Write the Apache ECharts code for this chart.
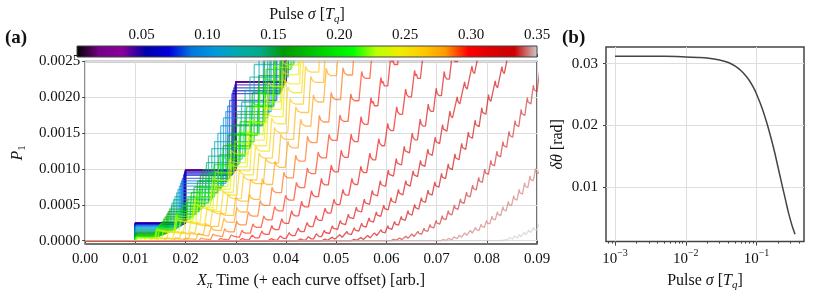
<!DOCTYPE html>
<html>
<head>
<meta charset="utf-8">
<script src="https://cdn.jsdelivr.net/npm/echarts@6/dist/echarts.min.js"></script>
<style>
html,body{margin:0;padding:0;background:#fff;}
#chart{width:814px;height:296px;}
</style>
</head>
<body>
<div id="chart"></div>
<script>
// ---------------- data ----------------
// panel (a): one curve per pulse width sigma
const curveSigma = [0.001,0.008,0.015,0.022,0.029,0.037,0.044,0.051,0.058,0.065,
  0.072,0.079,0.086,0.094,0.101,0.108,0.115,0.122,0.129,0.136,
  0.143,0.151,0.158,0.165,0.172,0.179,0.186,0.193,0.200,0.208,
  0.215,0.222,0.229,0.236,0.243,0.250,0.257,0.265,0.272,0.279,
  0.286,0.293,0.300,0.307,0.314,0.322,0.329,0.336,0.343,0.350];
// rotation per pulse [rad] (step period in X_pi time = rotation / pi)
const curveRotation = [0.0314,0.0314,0.0314,0.0314,0.0314,0.0314,0.0314,0.0311,0.0308,0.0305,
  0.0302,0.0295,0.0289,0.0283,0.0276,0.0267,0.0258,0.0248,0.0239,0.0229,
  0.0220,0.0210,0.0201,0.0192,0.0182,0.0173,0.0163,0.0154,0.0145,0.0135,
  0.0129,0.0123,0.0116,0.0110,0.0107,0.0104,0.0101,0.0097,0.0094,0.0080,
  0.0074,0.0068,0.0062,0.0056,0.0050,0.0046,0.0042,0.0038,0.0034,0.0030];
// time offset of each curve
const curveOffset = [0,0,0,0,0,0,0,0.0001,0.0002,0.0003,
  0.0004,0.0006,0.0008,0.0010,0.0012,0.0015,0.0018,0.0021,0.0024,0.0027,
  0.0030,0.0033,0.0036,0.0039,0.0042,0.0045,0.0048,0.0051,0.0054,0.0057,
  0.0059,0.0062,0.0068,0.0076,0.0086,0.0098,0.0112,0.0128,0.0148,0.0172,
  0.0205,0.0245,0.0290,0.0350,0.0410,0.0460,0.0520,0.0600,0.0700,0.0815];
// transient overshoot during each pulse
const curveOvershoot = [0,0,0,0,0,0,0,0,0,0, 0,0,0,0,0,0,0,0,0,0,
  0,0,0,0,0,0,0,0,0.15,0.15, 0.15,0.15,0.25,0.25,0.25,0.25,0.4,0.4,0.4,0.55,
  0.55,0.55,0.7,0.7,0.7,0.7,0.7,0.7,0.7,0.7];
// rise time of each step (fraction of the step period)
const curveRise = [0,0,0,0,0,0,0,0,0,0, 0,0,0,0,0,0,0,0,0,0,
  0.05,0.05,0.05,0.05,0.05,0.05,0.05,0.05,0.1,0.1, 0.1,0.1,0.1,0.1,0.1,0.1,0.15,0.15,0.15,0.2,
  0.2,0.25,0.3,0.35,0.35,0.4,0.4,0.4,0.4,0.4];
const xTicksA = [0,0.01,0.02,0.03,0.04,0.05,0.06,0.07,0.08,0.09];
const yTicksA = [0,0.0005,0.001,0.0015,0.002,0.0025];
const cbarTicks = [0.05,0.10,0.15,0.20,0.25,0.30,0.35];

// panel (b): rotation vs pulse width
const sigmaB = [0.001,0.002,0.005,0.01,0.015,0.02,0.03,0.04,0.05,0.06,0.07,0.08,0.09,0.10,
  0.12,0.14,0.16,0.18,0.20,0.22,0.24,0.26,0.28,0.30,0.32,0.34,0.35];
const dthetaB = [0.0312,0.0312,0.0312,0.0311,0.0310,0.0309,0.0306,0.0302,0.0296,0.0289,0.0281,0.0272,0.0262,0.0251,
  0.0228,0.0204,0.0180,0.0157,0.0134,0.0113,0.0094,0.0077,0.0061,0.0048,0.0037,0.0028,0.0024];
const xTicksB = [0.001,0.01,0.1];
const xMinorB = [0.0008,0.0009,0.002,0.003,0.004,0.005,0.006,0.007,0.008,0.009,
  0.02,0.03,0.04,0.05,0.06,0.07,0.08,0.09,0.2,0.3,0.4];
const yTicksB = [0.01,0.02,0.03];

// ---------------- colormap (nipy_spectral) ----------------
const CM = {
  r: [[0,0],[0.05,0.4667],[0.1,0.5333],[0.15,0],[0.6,0],[0.65,0.7333],[0.7,0.9333],[0.75,1],[0.85,1],[0.9,0.8667],[0.95,0.8],[1,0.8]],
  g: [[0,0],[0.2,0],[0.25,0.4667],[0.3,0.6],[0.35,0.6667],[0.4,0.6667],[0.45,0.6],[0.5,0.7333],[0.55,0.8667],[0.6,1],[0.65,1],[0.7,0.9333],[0.75,0.8],[0.8,0.6],[0.85,0],[0.95,0],[1,0.8]],
  b: [[0,0],[0.05,0.5333],[0.1,0.6],[0.15,0.6667],[0.2,0.8667],[0.3,0.8667],[0.35,0.6667],[0.4,0.5333],[0.45,0],[0.95,0],[1,0.8]]
};
function chan(tab, x) {
  for (let i = 1; i < tab.length; i++) {
    if (x <= tab[i][0]) {
      const f = (x - tab[i-1][0]) / (tab[i][0] - tab[i-1][0]);
      return tab[i-1][1] + f * (tab[i][1] - tab[i-1][1]);
    }
  }
  return tab[tab.length-1][1];
}
function cmap(x) {
  x = Math.max(0, Math.min(1, x));
  return 'rgb(' + Math.round(255*chan(CM.r,x)) + ',' + Math.round(255*chan(CM.g,x)) + ',' + Math.round(255*chan(CM.b,x)) + ')';
}
const SIG_MIN = 0.001, SIG_MAX = 0.35;

// ---------------- curve construction ----------------
const X_END = 0.0905, Y_TOP = 0.0025;
function buildCurve(k) {
  const rot = curveRotation[k];
  const T = rot / Math.PI;           // pulse period in X_pi time
  const t0 = curveOffset[k];
  const a = curveOvershoot[k];
  const h = curveRise[k] * T / 2;
  const pts = [[0, 0]];
  let prev = 0;
  for (let n = 1; n < 400; n++) {
    const ts = t0 + n * T;
    if (ts - h > X_END) { pts.push([X_END, prev]); break; }
    const lev = Math.pow(Math.sin(n * rot / 2), 2);
    const d = lev - prev;
    pts.push([ts - h, prev]);
    if (a > 0) {
      const bt = a * Math.sqrt(d * 1e-4);
      pts.push([ts + h, lev + bt]);
      pts.push([ts + h + 0.12 * T, lev + 0.3 * bt]);
      pts.push([ts + h + 0.2 * T, lev + 0.55 * bt]);
      pts.push([ts + h + 0.35 * T, lev]);
    } else {
      pts.push([ts + h, lev]);
    }
    prev = lev;
    if (prev > Y_TOP * 1.4) break;
  }
  return pts;
}

// ---------------- chart ----------------
const FONT = 'Liberation Serif';
const TXT = '#111';
const FS = 15, FN = 16;
const rich = {
  n: {fontFamily: FONT, fontSize: FN, color: TXT, lineHeight: 20},
  i: {fontFamily: FONT, fontSize: FN, color: TXT, fontStyle: 'italic', lineHeight: 20},
  sub: {fontFamily: FONT, fontSize: 11, color: TXT, fontStyle: 'italic', lineHeight: 11, verticalAlign: 'bottom'},
  subn: {fontFamily: FONT, fontSize: 11, color: TXT, lineHeight: 11, verticalAlign: 'bottom'},
  t: {fontFamily: FONT, fontSize: FS, color: TXT, lineHeight: 20},
  sup: {fontFamily: FONT, fontSize: 10, color: TXT, lineHeight: 10, verticalAlign: 'top'}
};
const nameStyle = {fontFamily: FONT, fontSize: FN, color: TXT, lineHeight: 20, rich: rich};
const labelBase = {fontFamily: FONT, fontSize: FS, color: TXT};
const FRAME = '#444';
const GRIDC = '#dedede';

const series = [];
for (let k = 0; k < curveSigma.length; k++) {
  series.push({
    type: 'line', xAxisIndex: 0, yAxisIndex: 0,
    data: buildCurve(k), showSymbol: false, symbol: 'none', silent: true,
    z: 2,
    lineStyle: {color: cmap((curveSigma[k] - SIG_MIN) / (SIG_MAX - SIG_MIN)), width: 1.3, opacity: 0.65},
    animation: false
  });
}
series.push({
  type: 'line', xAxisIndex: 2, yAxisIndex: 2,
  data: sigmaB.map((s, i) => [s, dthetaB[i]]),
  showSymbol: false, symbol: 'none', smooth: 0.3, silent: true,
  lineStyle: {color: '#444', width: 1.5}, animation: false
});

const stops = [];
for (let i = 0; i <= 20; i++) stops.push({offset: i/20, color: cmap(i/20)});

const option = {
  animation: false,
  backgroundColor: '#fff',
  grid: [
    {left: 77, width: 460, top: 61.5, height: 187.5, show: true, borderColor: FRAME, borderWidth: 1.5, backgroundColor: 'rgba(0,0,0,0)'},
    {left: 77, width: 460, top: 46, height: 11},
    {left: 606, width: 198, top: 47, height: 202, show: true, borderColor: FRAME, borderWidth: 1.5, backgroundColor: 'rgba(0,0,0,0)'}
  ],
  xAxis: [
    {gridIndex: 0, type: 'value', min: 0, max: 0.09, interval: 0.01,
     axisLine: {show: false}, axisTick: {show: true, length: 3, lineStyle: {color: FRAME}},
     axisLabel: Object.assign({margin: 7, formatter: v => v.toFixed(2)}, labelBase),
     splitLine: {show: true, lineStyle: {color: GRIDC, width: 1}},
     name: '{i|X}{sub|π}{n| Time (+ each curve offset) [arb.]}', nameLocation: 'middle', nameGap: 21,
     nameTextStyle: nameStyle},
    {gridIndex: 1, type: 'value', min: SIG_MIN, max: SIG_MAX, position: 'top',
     axisLine: {show: false},
     axisTick: {show: true, length: 3, customValues: cbarTicks, lineStyle: {color: FRAME}},
     axisLabel: Object.assign({margin: 3, customValues: cbarTicks, formatter: v => v.toFixed(2)}, labelBase),
     splitLine: {show: false},
     name: '{n|Pulse }{i|σ}{n| [}{i|T}{sub|q}{n|]}', nameLocation: 'middle', nameGap: 21,
     nameTextStyle: nameStyle},
    {gridIndex: 2, type: 'log', min: 0.000746, max: 0.469,
     axisLine: {show: false},
     axisTick: {show: true, length: 4, customValues: xTicksB, lineStyle: {color: FRAME}},
     axisLabel: Object.assign({margin: 7, customValues: xTicksB,
        formatter: v => '{t|10}{sup|−' + Math.round(-Math.log10(v)) + '}', rich: rich}, labelBase),
     splitLine: {show: true, customValues: xTicksB, lineStyle: {color: GRIDC, width: 1}},
     name: '{n|Pulse }{i|σ}{n| [}{i|T}{sub|q}{n|]}', nameLocation: 'middle', nameGap: 22,
     nameTextStyle: nameStyle},
    {gridIndex: 2, type: 'log', min: 0.000746, max: 0.469, position: 'bottom',
     axisLine: {show: false},
     axisTick: {show: true, length: 2, customValues: xMinorB, lineStyle: {color: FRAME}},
     axisLabel: {show: false}, splitLine: {show: false}}
  ],
  yAxis: [
    {gridIndex: 0, type: 'value', min: -0.000048, max: 0.0025,
     axisLine: {show: false},
     axisTick: {show: true, length: 3, customValues: yTicksA, lineStyle: {color: FRAME}},
     axisLabel: Object.assign({margin: 5, customValues: yTicksA, formatter: v => v.toFixed(4)}, labelBase),
     splitLine: {show: true, customValues: yTicksA, lineStyle: {color: GRIDC, width: 1}},
     name: '{i|P}{subn|1}', nameLocation: 'middle', nameGap: 54, nameRotate: 90,
     nameTextStyle: nameStyle},
    {gridIndex: 1, type: 'value', min: 0, max: 1, show: false},
    {gridIndex: 2, type: 'value', min: 0.0012, max: 0.0327,
     axisLine: {show: false},
     axisTick: {show: true, length: 3, customValues: yTicksB, lineStyle: {color: FRAME}},
     axisLabel: Object.assign({margin: 8, customValues: yTicksB, formatter: v => v.toFixed(2)}, labelBase),
     splitLine: {show: true, customValues: yTicksB, lineStyle: {color: GRIDC, width: 1}},
     name: '{i|δθ}{n| [rad]}', nameLocation: 'middle', nameGap: 38, nameRotate: 90,
     nameTextStyle: nameStyle}
  ],
  graphic: [
    {type: 'rect', shape: {x: 77, y: 46, width: 460, height: 11}, z: 10,
     style: {fill: new echarts.graphic.LinearGradient(0, 0, 1, 0, stops), stroke: FRAME, lineWidth: 1}},
    {type: 'text', x: 5, y: 29, z: 10,
     style: {text: '(a)', font: 'bold 19px "' + FONT + '"', fill: '#111'}},
    {type: 'text', x: 562, y: 29, z: 10,
     style: {text: '(b)', font: 'bold 19px "' + FONT + '"', fill: '#111'}}
  ],
  series: series
};

const chart = echarts.init(document.getElementById('chart'), null, {renderer: 'canvas'});
chart.setOption(option);
</script>
</body>
</html>
